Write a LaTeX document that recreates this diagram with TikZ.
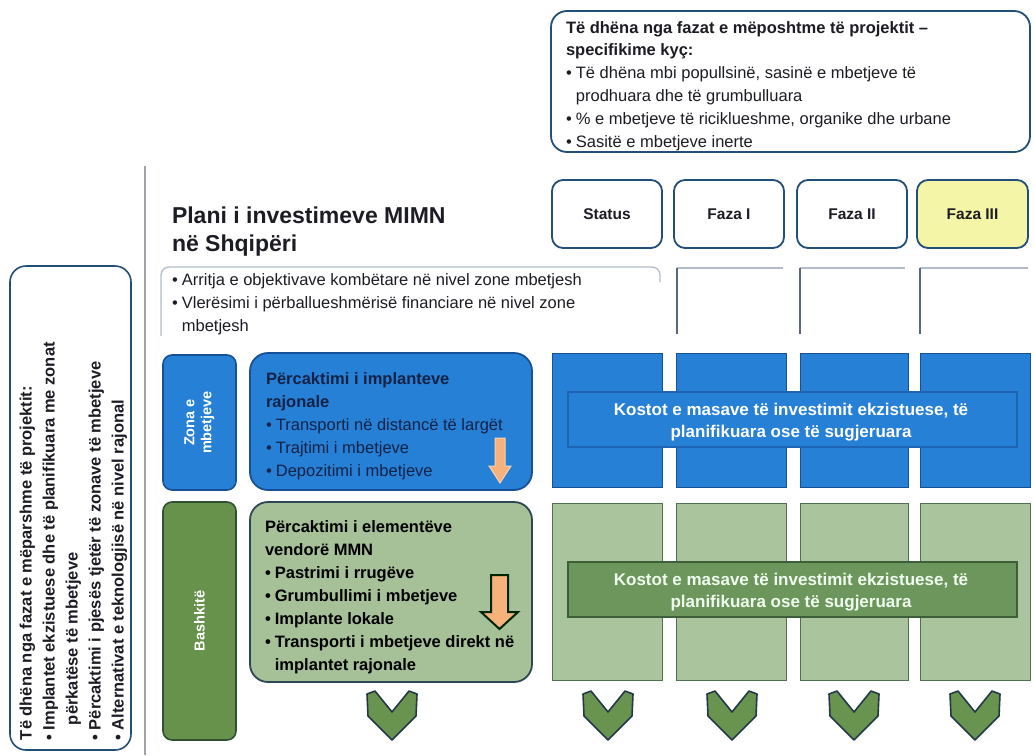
\documentclass[tikz,border=0pt]{standalone}
\usepackage{fontspec}
\setmainfont{Liberation Sans}
\definecolor{bordc}{RGB}{34,78,122}
\definecolor{txt}{RGB}{28,28,36}
\definecolor{navy}{RGB}{20,34,70}
\definecolor{blueF}{RGB}{38,128,214}
\definecolor{blueD}{RGB}{24,80,150}
\definecolor{blueO}{RGB}{30,100,180}
\definecolor{greenF}{RGB}{170,196,158}
\definecolor{greenD}{RGB}{80,110,80}
\definecolor{greenBig}{RGB}{166,192,152}
\definecolor{bigD}{RGB}{45,72,84}
\definecolor{bashF}{RGB}{102,146,76}
\definecolor{bashD}{RGB}{50,80,52}
\definecolor{ovG}{RGB}{108,150,92}
\definecolor{ovGD}{RGB}{60,94,56}
\definecolor{yel}{RGB}{245,245,168}
\definecolor{orng}{RGB}{246,178,122}
\definecolor{chevF}{RGB}{104,148,80}
\definecolor{chevD}{RGB}{36,56,72}
\definecolor{divc}{RGB}{160,165,172}
\definecolor{lightl}{RGB}{178,188,198}
\definecolor{darkl}{RGB}{88,104,122}
\newcommand\Ltext[1]{\vtop{\halign{##\hfil\cr#1\crcr}}}
\newcommand\Ctext[1]{\vtop{\halign{\hfil##\hfil\cr#1\crcr}}}
\newcommand\myBul{\makebox[0.6em][l]{•}}
\newcommand\hg{\hspace*{0.6em}}
\newcommand\fbody{\fontsize{16.5}{23}\selectfont}
\tikzset{
  basen/.style={inner sep=0pt, outer sep=0pt},
  txtn/.style={basen, anchor=base west, text=txt},
  callbox/.style={basen, draw=bordc, line width=1.8pt, rounded corners=16pt, fill=white},
  leftbox/.style={basen, draw=bordc, line width=1.6pt, rounded corners=16pt, fill=white},
  hdr/.style={basen, draw=bordc, line width=1.8pt, rounded corners=11pt, fill=white,
     font=\bfseries\fontsize{15.5}{18}\selectfont, text=txt},
  bluecol/.style={basen, draw=blueD, line width=1pt, fill=blueF},
  greencol/.style={basen, draw=greenD, line width=1pt, fill=greenF},
  bluebig/.style={basen, draw=blueD, line width=1.8pt, rounded corners=18pt, fill=blueF},
  greenbig/.style={basen, draw=bigD, line width=1.8pt, rounded corners=18pt, fill=greenBig},
  zonebox/.style={basen, draw=blueD, line width=1.6pt, rounded corners=9pt, fill=blueF},
  bashbox/.style={basen, draw=bashD, line width=1.6pt, rounded corners=9pt, fill=bashF},
  ovblue/.style={basen, draw=blueO, line width=1.2pt, fill=blueF},
  ovgreen/.style={basen, draw=ovGD, line width=1.2pt, fill=ovG},
  ovtext/.style={basen, font=\bfseries\fontsize{17}{22}\selectfont},
  sidetext/.style={basen, rotate=90, text=white, font=\bfseries\fontsize{14.5}{17}\selectfont},
  chevron/.style={draw=chevD, line width=1.6pt, fill=chevF, line join=round},
}
\begin{document}
\begin{tikzpicture}[x=1pt,y=-1pt]
\useasboundingbox (0,0) rectangle (1035,755);
\fill[white] (0,0) rectangle (1035,755);

% top callout
\node[callbox, minimum width=479, minimum height=141] (callout) at (790.5,81.5) {};
\node[txtn, font=\fontsize{16.5}{22.8}\selectfont] (calltxt) at (566,33) {\Ltext{%
\textbf{Të dhëna nga fazat e mëposhtme të projektit –}\cr
\textbf{specifikime kyç:}\cr
\myBul Të dhëna mbi popullsinë, sasinë e mbetjeve të\cr
\hg prodhuara dhe të grumbulluara\cr
\myBul \% e mbetjeve të riciklueshme, organike dhe urbane\cr
\myBul Sasitë e mbetjeve inerte}};

% divider
\coordinate (divtop) at (145,166);
\coordinate (divbot) at (145,755);
\draw[divc, line width=1.5pt] (divtop) -- (divbot);

% left box
\node[leftbox, minimum width=121, minimum height=484] (prevbox) at (70.5,508) {};
\node[txtn, rotate=90, font=\bfseries\fontsize{16.5}{23}\selectfont] (prevtxt) at (31.5,740) {\Ltext{%
Të dhëna nga fazat e mëparshme të projektit:\cr
\myBul Implantet ekzistuese dhe të planifikuara me zonat\cr
\hspace*{15pt}përkatëse të mbetjeve\cr
\myBul Përcaktimi i pjesës tjetër të zonave të mbetjeve\cr
\myBul Alternativat e teknologjisë në nivel rajonal}};

% title
\node[txtn, font=\bfseries\fontsize{23}{28}\selectfont] (title) at (172,223) {\Ltext{%
Plani i investimeve MIMN\cr në Shqipëri}};

% phase headers
\node[hdr, minimum width=110, minimum height=68] (status) at (607,214) {Status};
\node[hdr, minimum width=110, minimum height=68] (faza1) at (729,214) {Faza I};
\node[hdr, minimum width=110, minimum height=68] (faza2) at (852,214) {Faza II};
\node[hdr, minimum width=111, minimum height=68, fill=yel] (faza3) at (972.5,214) {Faza III};

% objectives row
\draw[lightl, line width=1.3pt, rounded corners=8pt] (161,336) -- (161,267) -- (660,267) -- (660,282);
\node[txtn, font=\fbody] (objtxt) at (172,285.5) {\Ltext{%
\myBul Arritja e objektivave kombëtare në nivel zone mbetjesh\cr
\myBul Vlerësimi i përballueshmërisë financiare në nivel zone\cr
\hg mbetjesh}};
\foreach \a/\b in {677/783,800/905,920/1028}{
  \draw[lightl, line width=1.3pt] (\a,268) -- (\b,268);
  \draw[darkl, line width=1.5pt] (\a,268) -- (\a,334);
}

% blue row
\node[zonebox, minimum width=73, minimum height=135] (zona) at (199.5,422.5) {};
\node[sidetext] (zonatxt) at (zona.center) {\Ctext{Zona e\cr mbetjeve}};
\node[bluebig, minimum width=282, minimum height=137] (bluebox) at (391,421.5) {};
\node[txtn, font=\fbody, text=navy] (bluetxt) at (266,384) {\Ltext{%
\textbf{Përcaktimi i implanteve}\cr
\textbf{rajonale}\cr
\myBul Transporti në distancë të largët\cr
\myBul Trajtimi i mbetjeve\cr
\myBul Depozitimi i mbetjeve}};
\draw[draw=orng!60!white, line width=1pt, fill=orng]
  (495,438) -- (505,438) -- (505,466) -- (511,466) -- (500,483) -- (489,466) -- (495,466) -- cycle;
\node[bluecol, minimum width=110, minimum height=134] (bc1) at (607,420) {};
\node[bluecol, minimum width=110, minimum height=134] (bc2) at (731,420) {};
\node[bluecol, minimum width=108, minimum height=134] (bc3) at (854,420) {};
\node[bluecol, minimum width=110, minimum height=134] (bc4) at (975,420) {};
\node[ovblue, minimum width=449, minimum height=55] (ovb) at (792.5,419.5) {};
\node[ovtext, text=white] (ovbtxt) at (791,422) {\Ctext{Kostot e masave të investimit ekzistuese, të\cr planifikuara ose të sugjeruara}};

% green row
\node[bashbox, minimum width=73, minimum height=238] (bash) at (199.5,621) {};
\node[sidetext] (bashtxt) at (bash.center) {Bashkitë};
\node[greenbig, minimum width=282, minimum height=180] (greenbox) at (391,592) {};
\node[txtn, font=\bfseries\fontsize{16.5}{23}\selectfont, text=black] (greentxt) at (265,532) {\Ltext{%
Përcaktimi i elementëve\cr
vendorë MMN\cr
\myBul Pastrimi i rrugëve\cr
\myBul Grumbullimi i mbetjeve\cr
\myBul Implante lokale\cr
\myBul Transporti i mbetjeve direkt në\cr
\hg implantet rajonale}};
\draw[draw=black!85!green, line width=2pt, fill=orng, line join=miter]
  (491,575) -- (508,575) -- (508,612) -- (518,612) -- (499.5,629) -- (481,612) -- (491,612) -- cycle;
\node[greencol, minimum width=110, minimum height=177] (gc1) at (607,591.5) {};
\node[greencol, minimum width=110, minimum height=177] (gc2) at (731,591.5) {};
\node[greencol, minimum width=108, minimum height=177] (gc3) at (854,591.5) {};
\node[greencol, minimum width=110, minimum height=177] (gc4) at (975,591.5) {};
\node[ovgreen, minimum width=449, minimum height=55] (ovg) at (792.5,589.5) {};
\node[ovtext, text=white!94!green] (ovgtxt) at (791,592) {\Ctext{Kostot e masave të investimit ekzistuese, të\cr planifikuara ose të sugjeruara}};

% chevrons
\foreach \cx in {392,608,732,854,975}{
  \draw[chevron] (\cx-25,694) -- (\cx-17,691) -- (\cx,712) -- (\cx+17,691) -- (\cx+25,694)
     -- (\cx+24,716) -- (\cx,740) -- (\cx-24,716) -- cycle;
}
\end{tikzpicture}
\end{document}
